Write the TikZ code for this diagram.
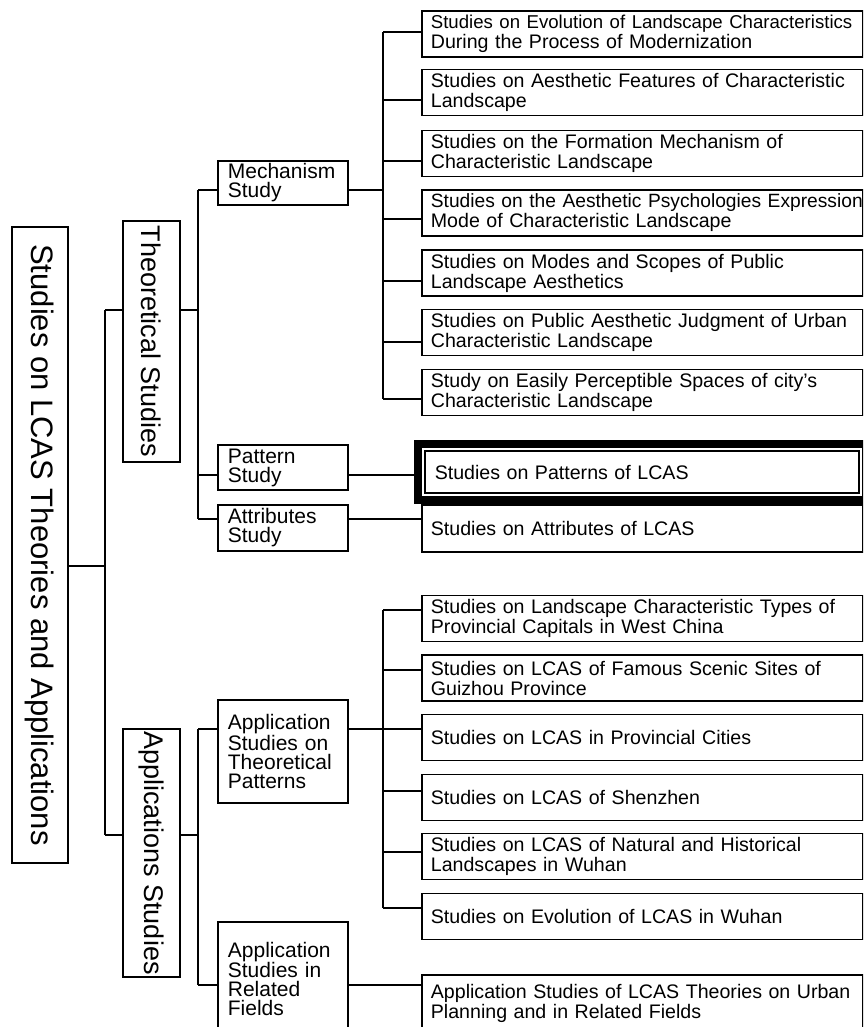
\documentclass[tikz,border=0pt]{standalone}
\usepackage{fontspec}
\setmainfont{Liberation Sans}
\usetikzlibrary{fit}
\definecolor{ink}{HTML}{000000}
\tikzset{
  rot/.style={draw=ink, line width=1.6pt, rotate=-90, inner sep=0pt,
              font=\fontsize{27}{27}\selectfont},
  mid/.style={draw=ink, line width=1.8pt, anchor=west, text width=110pt,
              inner xsep=10pt, inner ysep=0pt, align=left,
              font=\fontsize{21}{19}\selectfont},
  leaf/.style={draw=ink, line width=1.8pt, anchor=west, minimum height=46pt,
               text width=423pt, inner xsep=9pt, inner ysep=0pt, align=left,
               font=\fontsize{19.6}{20}\selectfont},
  heavy/.style={draw=ink, line width=8pt, inner sep=6pt},
  link/.style={draw=ink, line width=1.8pt},
}
\newcommand{\tight}[2]{\mbox{\fontsize{#1}{20}\selectfont #2}}

\begin{document}
\begin{tikzpicture}[x=1pt, y=-1pt]
  \useasboundingbox (0,0) rectangle (863,1027);
  \clip (0,0) rectangle (863,1027);

  % vertical boxes
  \node[rot, font=\fontsize{31}{31}\selectfont, line width=1.4pt,
        minimum width=636pt, minimum height=56pt] (root) at (40,545)
        {Studies on LCAS Theories and Applications};
  \node[rot, minimum width=241pt, minimum height=57pt] (theo) at (151.5,341.5) {Theoretical Studies};
  \node[rot, minimum width=248pt, minimum height=57pt] (appl) at (151.5,853) {Applications Studies};

  % second column
  \node[mid, minimum height=44pt] (mech) at (217,183) {Mechanism\\Study};
  \node[mid, minimum height=45pt] (pat) at (217,467.5) {Pattern\\Study};
  \node[mid, minimum height=46pt] (attr) at (217,528) {Attributes\\Study};
  \node[mid, minimum height=103pt] (apth) at (217,751.5) {Application\\Studies on\\Theoretical\\Patterns};
  \node[mid, minimum height=114pt] (apre) at (217,979) {Application\\Studies in\\Related\\Fields};

  % junctions
  \coordinate (s0) at (105,566);
  \coordinate (s1) at (105,310);
  \coordinate (s2) at (105,835);
  \coordinate (t0) at (198,310);
  \coordinate (t1) at (198,190);
  \coordinate (t2) at (198,475);
  \coordinate (t3) at (198,519);
  \coordinate (a0) at (198,835);
  \coordinate (a1) at (198,729);
  \coordinate (a2) at (198,985);

  \draw[link] (s1) -- (s2);
  \draw[link] (s0 -| root.north) -- (s0);
  \draw[link] (s1) -- (s1 -| theo.south);
  \draw[link] (s2) -- (s2 -| appl.south);
  \draw[link] (t0 -| theo.north) -- (t0);
  \draw[link] (a0 -| appl.north) -- (a0);
  \draw[link] (t1) -- (t3);
  \draw[link] (a1) -- (a2);
  \foreach \n/\c in {mech/t1, pat/t2, attr/t3, apth/a1, apre/a2}
    \draw[link] (\c) -- (\c -| \n.west);

  % mechanism studies
  \foreach \i/\yc/\yl/\txt in {
      1/34/32/{\tight{18.6}{Studies on Evolution of Landscape Characteristics}\\During the Process of Modernization},
      2/92.5/100/{Studies on Aesthetic Features of Characteristic\\Landscape},
      3/153.5/161/{Studies on the Formation Mechanism of\\Characteristic Landscape},
      4/213/219/{\tight{19.2}{Studies on the Aesthetic Psychologies Expression}\\Mode of Characteristic Landscape},
      5/273/281/{Studies on Modes and Scopes of Public\\Landscape Aesthetics},
      6/332.5/342/{Studies on Public Aesthetic Judgment of Urban\\Characteristic Landscape},
      7/392.5/399/{Study on Easily Perceptible Spaces of city's\\Characteristic Landscape}}{
    \node[leaf] (m\i) at (421,\yc) {\txt};
    \coordinate (c\i) at (383,\yl);
    \draw[link] (c\i) -- (c\i -| m\i.west);
  }
  \coordinate (c0) at (383,190);
  \draw[link] (c1) -- (c7);
  \draw[link] (c0 -| mech.east) -- (c0);

  % pattern and attributes
  \node[leaf, text width=414pt, inner xsep=10pt, minimum height=42pt,
        line width=1.5pt] (pl) at (424,472) {Studies on Patterns of LCAS};
  \node[heavy, fit=(pl)] (plf) {};
  \node[leaf, minimum height=47pt] (al) at (421,528.5) {Studies on Attributes of LCAS};
  \draw[link] (t2 -| pat.east) -- (t2 -| plf.west);
  \draw[link] (t3 -| attr.east) -- (t3 -| al.west);

  % application studies
  \foreach \i/\yc/\yl/\txt in {
      1/618.5/610/{Studies on Landscape Characteristic Types of\\Provincial Capitals in West China},
      2/678/670/{Studies on LCAS of Famous Scenic Sites of\\Guizhou Province},
      3/737.5/729/{Studies on LCAS in Provincial Cities},
      4/797.5/791/{Studies on LCAS of Shenzhen},
      5/856.5/852/{Studies on LCAS of Natural and Historical\\Landscapes in Wuhan},
      6/916.5/908/{Studies on Evolution of LCAS in Wuhan}}{
    \node[leaf] (q\i) at (421,\yc) {\txt};
    \coordinate (d\i) at (383,\yl);
    \draw[link] (d\i) -- (d\i -| q\i.west);
  }
  \draw[link] (d1) -- (d6);
  \draw[link] (d3 -| apth.east) -- (d3);

  \node[leaf, minimum height=56pt] (r1) at (421,1003)
        {Application Studies of LCAS Theories on Urban\\Planning and in Related Fields};
  \draw[link] (a2 -| apre.east) -- (a2 -| r1.west);
\end{tikzpicture}
\end{document}
